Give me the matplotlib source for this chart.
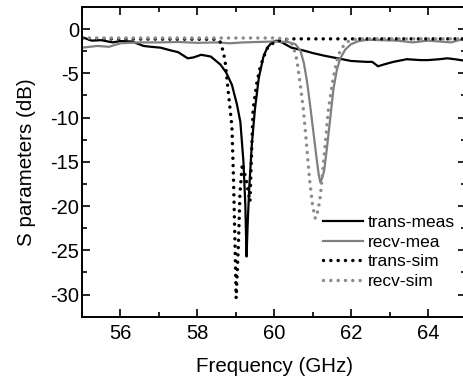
import matplotlib
matplotlib.use("Agg")
import matplotlib.pyplot as plt
from matplotlib.ticker import MultipleLocator

plt.rcParams['font.family'] = ['Liberation Sans', 'DejaVu Sans']
plt.rcParams['axes.unicode_minus'] = False

# data (GHz, dB)
trans_meas_x = [55.0, 55.25, 55.5, 55.8, 56.0, 56.3, 56.6, 56.8, 57.05, 57.3, 57.5, 57.75, 57.9,
                58.1, 58.35, 58.6, 58.75, 58.9, 59.03, 59.12, 59.2, 59.25, 59.28, 59.31, 59.35,
                59.42, 59.5, 59.6, 59.72, 59.82, 59.92, 60.05, 60.2, 60.45, 60.75, 61.0, 61.3,
                61.65, 62.0, 62.4, 62.55, 62.7, 62.85, 63.1, 63.45, 63.8, 64.0, 64.3, 64.5, 64.7, 65.0]
trans_meas_y = [-0.9, -1.3, -1.25, -1.5, -1.35, -1.4, -1.9, -2.0, -2.1, -2.4, -2.6, -3.3, -3.2,
                -2.9, -3.1, -4.0, -4.9, -6.3, -8.5, -10.5, -15.0, -20.0, -25.7, -22.0, -18.0,
                -12.9, -9.0, -5.5, -3.1, -2.1, -1.6, -1.3, -1.5, -2.1, -2.4, -2.7, -3.0,
                -3.3, -3.6, -3.7, -3.7, -4.2, -4.0, -3.7, -3.4, -3.5, -3.5, -3.4, -3.3, -3.4, -3.6]

recv_mea_x = [55.0, 55.4, 55.7, 56.0, 56.5, 57.0, 57.5, 58.0, 58.5, 58.85, 59.2, 59.6, 60.0, 60.35,
              60.55, 60.68, 60.77, 60.85, 60.94, 61.03, 61.1, 61.16, 61.2, 61.25, 61.3, 61.37,
              61.46, 61.54, 61.63, 61.72, 61.85, 62.0, 62.2, 62.45, 62.8, 63.2, 63.6, 64.0,
              64.3, 64.6, 64.85, 65.0]
recv_mea_y = [-2.1, -1.9, -2.0, -1.6, -1.5, -1.5, -1.45, -1.55, -1.5, -1.6, -1.5, -1.45, -1.4, -1.45,
              -1.7, -2.4, -3.8, -5.8, -8.8, -12.0, -14.5, -16.5, -17.3, -16.8, -16.0, -13.5,
              -10.0, -6.8, -4.6, -3.3, -2.3, -1.7, -1.35, -1.2, -1.25, -1.3, -1.5, -1.3,
              -1.4, -1.5, -1.2, -1.3]

trans_sim_x = [55.0, 58.5, 58.59, 58.64, 58.72, 58.81, 58.9, 58.94, 58.98, 59.01, 59.07, 59.11,
               59.17, 59.27, 59.37, 59.42, 59.45, 59.55, 59.64, 59.75, 59.84, 60.0, 60.2, 60.5, 65.0]
trans_sim_y = [-1.1, -1.15, -1.4, -2.0, -3.5, -7.3, -11.0, -16.7, -24.2, -30.4, -24.2, -18.5,
               -15.2, -17.0, -19.5, -12.9, -9.1, -6.0, -4.2, -2.9, -2.0, -1.5, -1.2, -1.1, -1.1]

recv_sim_x = [55.0, 60.0, 60.3, 60.42, 60.5, 60.59, 60.67, 60.76, 60.84, 60.92, 61.0, 61.07,
              61.14, 61.2, 61.29, 61.41, 61.54, 61.63, 61.72, 61.85, 61.98, 62.2, 65.0]
recv_sim_y = [-1.0, -1.0, -1.1, -1.3, -2.0, -3.5, -6.0, -9.1, -13.0, -17.0, -20.0, -21.4,
              -20.5, -18.9, -14.8, -9.1, -5.4, -3.6, -2.4, -1.6, -1.24, -1.1, -1.1]

labels = ['trans-meas', 'recv-mea', 'trans-sim', 'recv-sim']

fig = plt.figure(figsize=(4.63, 3.77), dpi=100)
ax = fig.add_axes([82 / 463, 1 - 316.7 / 377, (466.4 - 82) / 463, (316.7 - 7) / 377])

dots = (0, (0.01, 2.1))
ax.plot(trans_meas_x, trans_meas_y, color='black', lw=1.6, label=labels[0])
ax.plot(recv_mea_x, recv_mea_y, color='#808080', lw=1.6, label=labels[1])
ax.plot(trans_sim_x, trans_sim_y, color='black', lw=2.5, ls=dots,
        dash_capstyle='round', label=labels[2])
ax.plot(recv_sim_x, recv_sim_y, color='#8c8c8c', lw=2.5, ls=dots,
        dash_capstyle='round', label=labels[3])

ax.set_xlim(55, 65)
ax.set_ylim(-32.5, 2.5)
ax.xaxis.set_major_locator(MultipleLocator(2))
ax.xaxis.set_minor_locator(MultipleLocator(1))
ax.yaxis.set_major_locator(MultipleLocator(5))
ax.yaxis.set_minor_locator(MultipleLocator(2.5))
ax.tick_params(which='both', direction='in', top=True, right=True, width=1.2,
               labelsize=14.5)
ax.tick_params(which='major', length=6)
ax.tick_params(which='minor', length=3.5)
ax.tick_params(axis='x', pad=5)
ax.tick_params(axis='y', pad=2)
for s in ax.spines.values():
    s.set_linewidth(1.4)

ax.set_xlabel('Frequency (GHz)', fontsize=14.8, labelpad=10)
ax.set_ylabel('S parameters (dB)', fontsize=14.8, labelpad=10)

ax.legend(loc='upper left', bbox_to_anchor=(323 / 463, 1 - 215 / 377),
          bbox_transform=fig.transFigure, frameon=False, fontsize=12.5,
          borderpad=0, borderaxespad=0, handlelength=2.3, handletextpad=0.3,
          labelspacing=0.25)

fig.savefig('out.png', dpi=100)
